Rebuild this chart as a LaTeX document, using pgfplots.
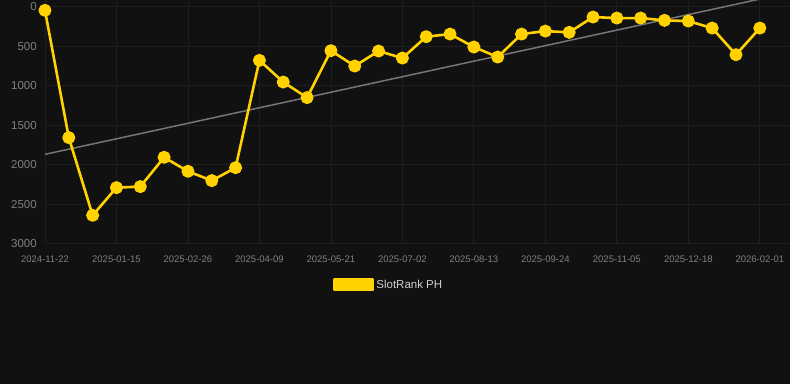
\documentclass[border=0pt]{standalone}
\usepackage{pgfplots}
\pgfplotsset{compat=1.18}
\usepackage{fontspec}
\setmainfont{Liberation Sans}
\definecolor{bg}{HTML}{111111}
\definecolor{gridc}{HTML}{1E1E1E}
\definecolor{ylw}{HTML}{FFD200}
\definecolor{trend}{HTML}{767676}
\definecolor{ticktxt}{HTML}{808080}
\definecolor{legtxt}{HTML}{D0D0D0}
\begin{document}
\begin{tikzpicture}[x=1pt,y=1pt]
\fill[bg] (0,0) rectangle (790,384);
\begin{axis}[
  at={(45pt,140.7pt)}, anchor=south west,
  scale only axis, width=745pt, height=243.3pt,
  xmin=0, xmax=31.25,
  ymin=-82, ymax=3000, y dir=reverse,
  axis line style={draw=none},
  major tick length=0pt,
  grid=major, grid style={gridc, line width=0.8pt},
  xtick={0,3,...,30},
  xticklabels={2024-11-22,2025-01-15,2025-02-26,2025-04-09,2025-05-21,2025-07-02,2025-08-13,2025-09-24,2025-11-05,2025-12-18,2026-02-01},
  ytick={0,500,1000,1500,2000,2500,3000},
  /pgf/number format/assume math mode=true,
  /pgf/number format/1000 sep={},
  xticklabel style={font=\fontsize{9.5}{11}\selectfont, text=ticktxt, inner sep=0pt, anchor=center, yshift=-16pt},
  yticklabel style={font=\fontsize{11.5}{13}\selectfont, text=ticktxt, inner sep=0pt, anchor=east, xshift=-8pt},
  legend style={at={(0.3866,-0.1693)}, anchor=west, draw=none, fill=none, inner sep=0pt, outer sep=0pt,
    font=\fontsize{11.5}{13}\selectfont, text=legtxt, legend cell align=left},
  legend image code/.code={\fill[ylw] (0pt,-5.3pt) rectangle (39pt,5.3pt);},
]
\addplot[trend, line width=1.5pt, forget plot] coordinates {(0,1869) (30,-99)};
\addplot[ylw, line width=2.6pt, line join=round, mark=*, mark size=5.2pt, mark options={solid, fill=ylw, draw=none}] coordinates {
(0,44) (1,1657) (2,2642) (3,2291) (4,2278) (5,1907) (6,2084) (7,2202) (8,2038)
(9,678) (10,953) (11,1150) (12,555) (13,750) (14,560) (15,649) (16,378) (17,345)
(18,509) (19,636) (20,345) (21,307) (22,323) (23,129) (24,142) (25,142) (26,171)
(27,180) (28,269) (29,606) (30,269)};
\addlegendentry{SlotRank PH}
\end{axis}
\end{tikzpicture}
\end{document}
